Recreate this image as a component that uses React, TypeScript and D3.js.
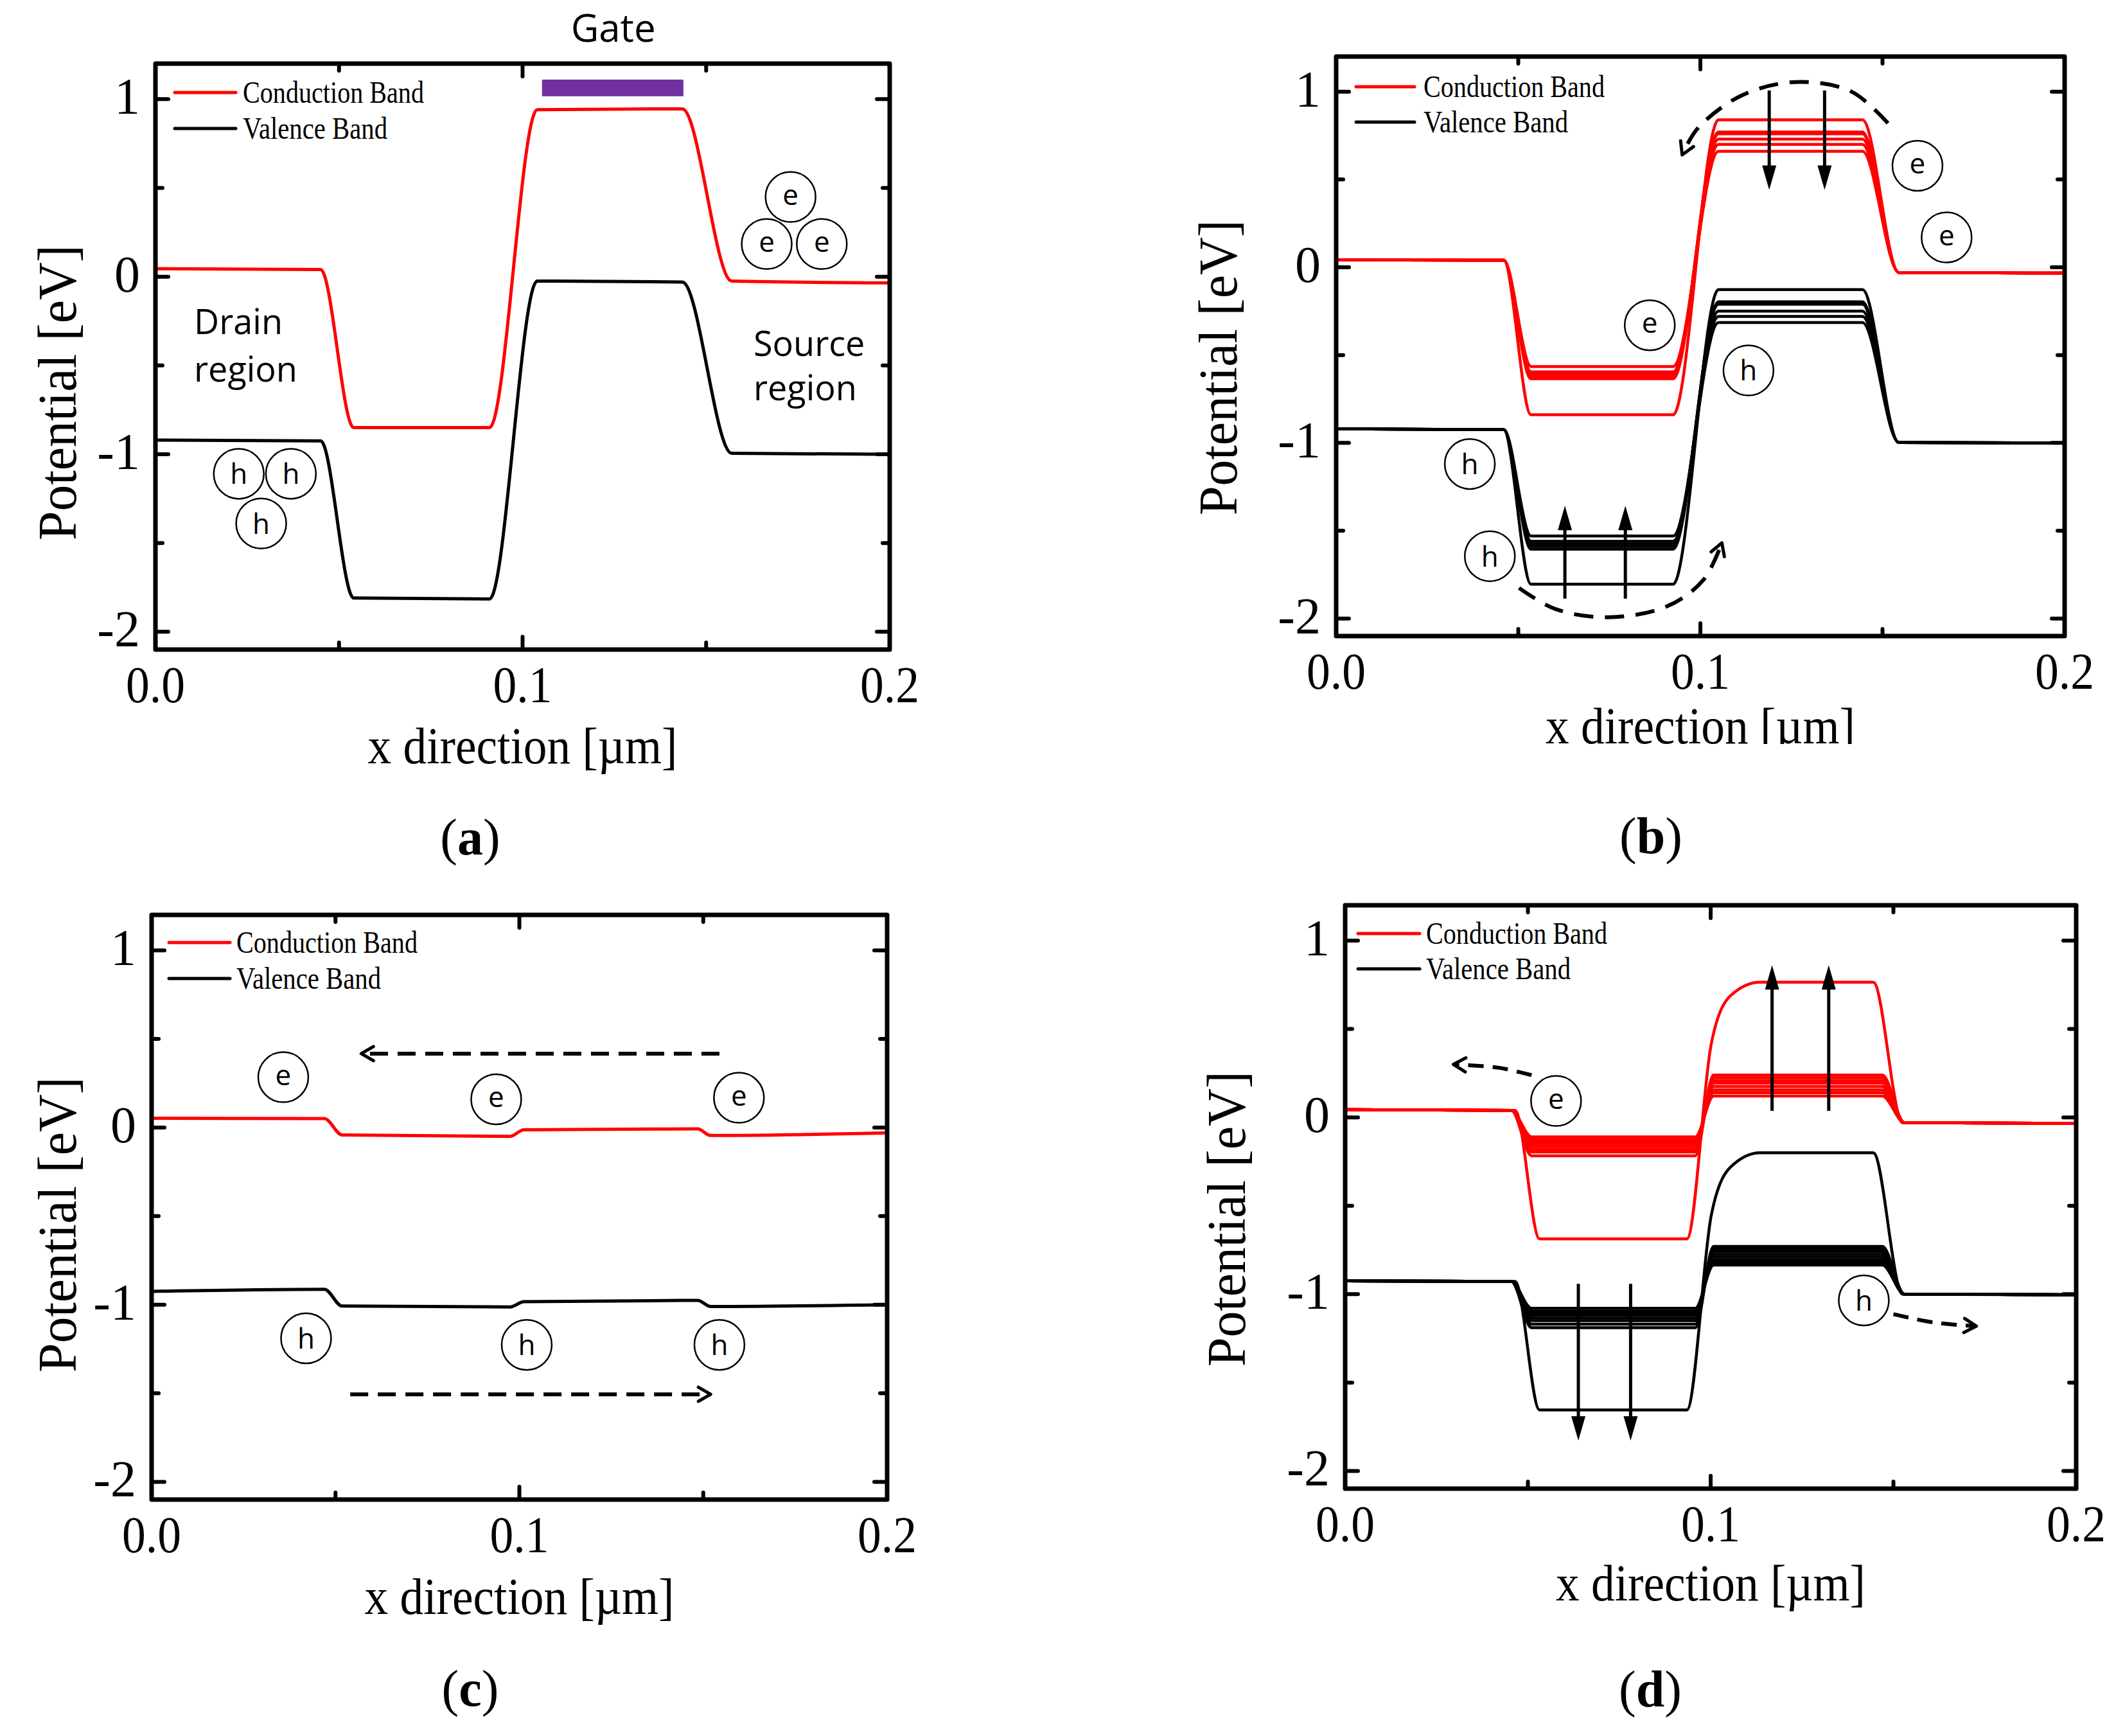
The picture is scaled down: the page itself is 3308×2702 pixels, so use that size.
import * as d3 from "d3";
import type { ReactNode } from "react";

type Pt = [number, number];

const WIDTH = 3308;
const HEIGHT = 2702;
const X_DOMAIN: Pt = [0, 0.2];
const Y_DOMAIN: Pt = [-2.1, 1.2];

const xMajor = [0, 0.1, 0.2];
const xMajorLabels = ["0.0", "0.1", "0.2"];
const xMinor = [0.05, 0.15];
const yMajor = [1, 0, -1, -2];
const yMajorLabels = ["1", "0", "-1", "-2"];
const yMinor = [0.5, -0.5, -1.5];

const legendLabels = ["Conduction Band", "Valence Band"];
const xTitle = "x direction [µm]";
const yTitle = "Potential [eV]";

// (a) equilibrium bands
const knotsA = [0, 0.045, 0.054, 0.091, 0.104, 0.1435, 0.157, 0.2];
const cbA = [0.045, 0.04, -0.85, -0.85, 0.94, 0.945, -0.025, -0.035];
const vbA = [-0.92, -0.925, -1.81, -1.815, -0.025, -0.03, -0.995, -1.0];
const gateSpan = [0.1053, 0.1438];
const gateLevels = [1.016, 1.11];
const gateLabel: [string, number, number] = ["Gate", 0.1247, 1.323];
const regionLabels: [string, number, number][] = [
  ["Drain", 0.0105, -0.325],
  ["region", 0.0105, -0.59],
  ["Source", 0.1629, -0.445],
  ["region", 0.1629, -0.695],
];
const circlesA: [number, number, string][] = [
  [0.173, 0.449, "e"],
  [0.1665, 0.184, "e"],
  [0.1815, 0.184, "e"],
  [0.0227, -1.11, "h"],
  [0.0369, -1.11, "h"],
  [0.0288, -1.39, "h"],
];

// (b) barrier lowering
const knotsB = [0, 0.046, 0.0535, 0.0925, 0.105, 0.1445, 0.1545, 0.2];
const cbDrainB = [0.042, 0.04];
const cbSourceB = [-0.03, -0.033];
const cbWellB = [-0.84, -0.635, -0.625, -0.61, -0.595, -0.565];
const cbBarrierB = [0.84, 0.77, 0.76, 0.73, 0.7, 0.66];
const vbDrainB = [-0.92, -0.925];
const vbSourceB = [-0.998, -1.0];
const vbWellB = [-1.805, -1.605, -1.59, -1.575, -1.56, -1.53];
const vbBarrierB = [-0.127, -0.197, -0.21, -0.25, -0.28, -0.315];
const circlesB: [number, number, string][] = [
  [0.1596, 0.578, "e"],
  [0.1676, 0.17, "e"],
  [0.0861, -0.33, "e"],
  [0.1132, -0.587, "h"],
  [0.0367, -1.12, "h"],
  [0.0422, -1.645, "h"],
];
const arrowsB: [number, number, number][] = [
  [0.1189, 1.007, 0.441],
  [0.1341, 1.007, 0.441],
  [0.0628, -1.887, -1.358],
  [0.0794, -1.887, -1.358],
];
const dashedB: Pt[][] = [
  [[0.1515, 0.82], [0.1414, 1.001], [0.126, 1.055], [0.111, 0.975], [0.0992, 0.789], [0.095, 0.64]],
  [[0.0502, -1.826], [0.0603, -1.947], [0.0747, -1.993], [0.0907, -1.932], [0.1008, -1.781], [0.1059, -1.569]],
];

// (c) flat bands
const knotsC = [0, 0.047, 0.0518, 0.0975, 0.1012, 0.1485, 0.152, 0.2];
const cbC = [0.052, 0.05, -0.042, -0.05, -0.013, -0.008, -0.045, -0.03];
const vbC = [-0.925, -0.913, -1.008, -1.013, -0.983, -0.976, -1.01, -1.0];
const circlesC: [number, number, string][] = [
  [0.0358, 0.284, "e"],
  [0.0937, 0.159, "e"],
  [0.1597, 0.168, "e"],
  [0.042, -1.19, "h"],
  [0.102, -1.227, "h"],
  [0.1544, -1.227, "h"],
];
const dashedC: Pt[][] = [
  [[0.1544, 0.417], [0.057, 0.417]],
  [[0.054, -1.506], [0.152, -1.506]],
];

// (d) barrier raising
const knotsD = [0, 0.0455, 0.051, 0.0958, 0.1008, 0.147, 0.153, 0.2];
const cbDrainD = [0.044, 0.04];
const cbSourceD = [-0.03, -0.034];
const cbWellD = [-0.217, -0.196, -0.18, -0.165, -0.15, -0.137, -0.125, -0.11];
const cbBarrierD = [0.24, 0.224, 0.208, 0.193, 0.174, 0.155, 0.14, 0.121];
const vbDrainD = [-0.925, -0.928];
const vbSourceD = [-1.0, -1.003];
const vbWellD = [-1.19, -1.17, -1.15, -1.135, -1.12, -1.105, -1.095, -1.08];
const vbBarrierD = [-0.73, -0.745, -0.76, -0.775, -0.79, -0.805, -0.82, -0.835];
const knotsD0 = [0, 0.0465, 0.0532, 0.0935, 0.1002, 0.1055, 0.1135, 0.1445, 0.1525, 0.2];
const cbD0 = [0.044, 0.04, -0.687, -0.687, 0.42, 0.69, 0.765, 0.765, -0.03, -0.034];
const vbD0 = [-0.925, -0.928, -1.655, -1.655, -0.55, -0.28, -0.2, -0.2, -1.0, -1.003];
const circlesD: [number, number, string][] = [
  [0.0577, 0.093, "e"],
  [0.1419, -1.035, "h"],
];
const arrowsD: [number, number, number][] = [
  [0.1168, 0.037, 0.861],
  [0.1323, 0.037, 0.861],
  [0.0638, -0.942, -1.828],
  [0.0781, -0.942, -1.828],
];
const dashedD: Pt[][] = [
  [[0.051, 0.239], [0.0423, 0.28], [0.0296, 0.3]],
  [[0.15, -1.113], [0.161, -1.16], [0.1727, -1.181]],
];

const zip = (xs: number[], ys: number[]): Pt[] => xs.map((x, i) => [x, ys[i]]);
const levels = (drain: number[], well: number, barrier: number, source: number[]) => [
  drain[0], drain[1], well, well, barrier, barrier, source[0], source[1],
];

const SERIF = "'Liberation Serif', 'Times New Roman', serif";
const SANS = "'Open Sans', 'Noto Sans', sans-serif";
const RED = "#ff0000";

type Box = { left: number; right: number; top: number; bottom: number };

interface PanelCfg {
  tag: string;
  box: Box;
  tagPos: Pt;
  yTitlePos: Pt;
  xTitleY: number;
  clipTitle?: boolean;
  legend: { dy: Pt; lx: Pt; tx: number };
  lineWidth: number;
  red: Pt[][];
  black: Pt[][];
  circles: [number, number, string][];
  arrows: [number, number, number][];
  dashed: Pt[][];
  dash: string;
  extra?: (x: d3.ScaleLinear<number, number>, y: d3.ScaleLinear<number, number>) => ReactNode;
}

const panels: PanelCfg[] = [
  {
    tag: "a",
    box: { left: 242, right: 1385, top: 99, bottom: 1011 },
    tagPos: [732, 1330],
    yTitlePos: [118, 611],
    xTitleY: 1188,
    legend: { dy: [45, 101], lx: [30, 125], tx: 136 },
    lineWidth: 5,
    red: [zip(knotsA, cbA)],
    black: [zip(knotsA, vbA)],
    circles: circlesA,
    arrows: [],
    dashed: [],
    dash: "28 15",
    extra: (x, y) => (
      <g>
        <rect
          x={x(gateSpan[0])}
          y={y(gateLevels[1])}
          width={x(gateSpan[1]) - x(gateSpan[0])}
          height={y(gateLevels[0]) - y(gateLevels[1])}
          fill="#7030a0"
        />
        <text x={x(gateLabel[1])} y={y(gateLabel[2])} textAnchor="middle" fontFamily={SANS} fontSize={60}>
          {gateLabel[0]}
        </text>
        {regionLabels.map(([t, lx, ly], i) => (
          <text key={i} x={x(lx)} y={y(ly)} fontFamily={SANS} fontSize={54}>
            {t}
          </text>
        ))}
      </g>
    ),
  },
  {
    tag: "b",
    box: { left: 2080, right: 3214, top: 88, bottom: 990 },
    tagPos: [2570, 1328],
    yTitlePos: [1925, 572],
    xTitleY: 1157,
    clipTitle: true,
    legend: { dy: [47, 102], lx: [31, 122], tx: 136 },
    lineWidth: 4.5,
    red: cbWellB.map((w, i) => zip(knotsB, levels(cbDrainB, w, cbBarrierB[i], cbSourceB))),
    black: vbWellB.map((w, i) => zip(knotsB, levels(vbDrainB, w, vbBarrierB[i], vbSourceB))),
    circles: circlesB,
    arrows: arrowsB,
    dashed: dashedB,
    dash: "30 18",
  },
  {
    tag: "c",
    box: { left: 236, right: 1381, top: 1424, bottom: 2334 },
    tagPos: [732, 2655],
    yTitlePos: [118, 1906],
    xTitleY: 2512,
    legend: { dy: [43, 99], lx: [27, 122], tx: 132 },
    lineWidth: 5,
    red: [zip(knotsC, cbC)],
    black: [zip(knotsC, vbC)],
    circles: circlesC,
    arrows: [],
    dashed: dashedC,
    dash: "28 15",
  },
  {
    tag: "d",
    box: { left: 2094, right: 3232, top: 1409, bottom: 2317 },
    tagPos: [2569, 2656],
    yTitlePos: [1938, 1897],
    xTitleY: 2491,
    legend: { dy: [44, 99], lx: [20, 116], tx: 126 },
    lineWidth: 4.5,
    red: [
      ...cbWellD.map((w, i) => zip(knotsD, levels(cbDrainD, w, cbBarrierD[i], cbSourceD))),
      zip(knotsD0, cbD0),
    ],
    black: [
      ...vbWellD.map((w, i) => zip(knotsD, levels(vbDrainD, w, vbBarrierD[i], vbSourceD))),
      zip(knotsD0, vbD0),
    ],
    circles: circlesD,
    arrows: arrowsD,
    dashed: dashedD,
    dash: "24 14",
  },
];

function Panel({ cfg }: { cfg: PanelCfg }) {
  const { box } = cfg;
  const x = d3.scaleLinear().domain(X_DOMAIN).range([box.left, box.right]);
  const y = d3.scaleLinear().domain(Y_DOMAIN).range([box.bottom, box.top]);
  const bandLine = d3
    .line<Pt>()
    .x((d) => x(d[0]))
    .y((d) => y(d[1]))
    .curve(d3.curveMonotoneX);
  const freeLine = d3
    .line<Pt>()
    .x((d) => x(d[0]))
    .y((d) => y(d[1]))
    .curve(d3.curveCatmullRom.alpha(0.5));
  const cx = (box.left + box.right) / 2;
  const clipId = `title-clip-${cfg.tag}`;
  const majorLen = 20;
  const minorLen = 11;

  return (
    <g>
      {cfg.red.map((pts, i) => (
        <path key={`r${i}`} d={bandLine(pts) ?? ""} fill="none" stroke={RED} strokeWidth={cfg.lineWidth} strokeLinejoin="round" />
      ))}
      {cfg.black.map((pts, i) => (
        <path key={`k${i}`} d={bandLine(pts) ?? ""} fill="none" stroke="#000" strokeWidth={cfg.lineWidth} strokeLinejoin="round" />
      ))}

      {cfg.circles.map(([px, py, t], i) => (
        <g key={`c${i}`}>
          <circle cx={x(px)} cy={y(py)} r={39} fill="none" stroke="#000" strokeWidth={2.5} />
          <text x={x(px)} y={y(py) + (t === "h" ? 16 : 12)} textAnchor="middle" fontFamily={SANS} fontSize={44}>
            {t}
          </text>
        </g>
      ))}

      {cfg.arrows.map(([ax, from, to], i) => {
        const px = x(ax);
        const y0 = y(from);
        const y1 = y(to);
        const dir = y1 > y0 ? 1 : -1;
        return (
          <g key={`a${i}`}>
            <line x1={px} x2={px} y1={y0} y2={y1 - dir * 20} stroke="#000" strokeWidth={5} />
            <path d={`M${px - 11},${y1 - dir * 38} L${px + 11},${y1 - dir * 38} L${px},${y1} Z`} fill="#000" />
          </g>
        );
      })}

      {cfg.dashed.map((pts, i) => (
        <path
          key={`d${i}`}
          d={freeLine(pts) ?? ""}
          fill="none"
          stroke="#000"
          strokeWidth={6}
          strokeDasharray={cfg.dash}
          markerEnd="url(#chevron)"
        />
      ))}

      {cfg.extra ? cfg.extra(x, y) : null}

      <rect
        x={box.left}
        y={box.top}
        width={box.right - box.left}
        height={box.bottom - box.top}
        fill="none"
        stroke="#000"
        strokeWidth={7}
        strokeLinejoin="round"
      />

      <g stroke="#000" strokeWidth={6} strokeLinecap="round">
        {xMajor.map((v) => (
          <g key={`xm${v}`}>
            <line x1={x(v)} x2={x(v)} y1={box.bottom} y2={box.bottom - majorLen} />
            <line x1={x(v)} x2={x(v)} y1={box.top} y2={box.top + majorLen} />
          </g>
        ))}
        {xMinor.map((v) => (
          <g key={`xn${v}`}>
            <line x1={x(v)} x2={x(v)} y1={box.bottom} y2={box.bottom - minorLen} />
            <line x1={x(v)} x2={x(v)} y1={box.top} y2={box.top + minorLen} />
          </g>
        ))}
        {yMajor.map((v) => (
          <g key={`ym${v}`}>
            <line x1={box.left} x2={box.left + majorLen} y1={y(v)} y2={y(v)} />
            <line x1={box.right} x2={box.right - majorLen} y1={y(v)} y2={y(v)} />
          </g>
        ))}
        {yMinor.map((v) => (
          <g key={`yn${v}`}>
            <line x1={box.left} x2={box.left + minorLen} y1={y(v)} y2={y(v)} />
            <line x1={box.right} x2={box.right - minorLen} y1={y(v)} y2={y(v)} />
          </g>
        ))}
      </g>

      <g fontFamily={SERIF} fontSize={80} fill="#000">
        {xMajor.map((v, i) => (
          <text key={`xl${v}`} x={x(v)} y={box.bottom + 82} textAnchor="middle" textLength={92} lengthAdjust="spacingAndGlyphs">
            {xMajorLabels[i]}
          </text>
        ))}
        {yMajor.map((v, i) => (
          <text key={`yl${v}`} x={box.left - 24} y={y(v) + 23} textAnchor="end">
            {yMajorLabels[i]}
          </text>
        ))}
      </g>

      {cfg.clipTitle ? (
        <clipPath id={clipId}>
          <rect x={0} y={0} width={WIDTH} height={cfg.xTitleY + 1} />
        </clipPath>
      ) : null}
      <text
        x={cx}
        y={cfg.xTitleY}
        textAnchor="middle"
        fontFamily={SERIF}
        fontSize={80}
        textLength={482}
        lengthAdjust="spacingAndGlyphs"
        clipPath={cfg.clipTitle ? `url(#${clipId})` : undefined}
      >
        {xTitle}
      </text>
      <text
        transform={`translate(${cfg.yTitlePos[0]},${cfg.yTitlePos[1]}) rotate(-90)`}
        textAnchor="middle"
        fontFamily={SERIF}
        fontSize={84}
        textLength={460}
        lengthAdjust="spacingAndGlyphs"
      >
        {yTitle}
      </text>

      {[RED, "#000"].map((color, i) => (
        <g key={`lg${i}`}>
          <line
            x1={box.left + cfg.legend.lx[0]}
            x2={box.left + cfg.legend.lx[1]}
            y1={box.top + cfg.legend.dy[i]}
            y2={box.top + cfg.legend.dy[i]}
            stroke={color}
            strokeWidth={5}
            strokeLinecap="round"
          />
          <text
            x={box.left + cfg.legend.tx}
            y={box.top + cfg.legend.dy[i] + 16}
            fontFamily={SERIF}
            fontSize={48}
            textLength={i === 0 ? 282 : 225}
            lengthAdjust="spacingAndGlyphs"
          >
            {legendLabels[i]}
          </text>
        </g>
      ))}

      <text x={cfg.tagPos[0]} y={cfg.tagPos[1]} textAnchor="middle" fontFamily={SERIF} fontSize={80}>
        (<tspan fontWeight="bold">{cfg.tag}</tspan>)
      </text>
    </g>
  );
}

export default function App() {
  return (
    <svg
      width={WIDTH}
      height={HEIGHT}
      viewBox={`0 0 ${WIDTH} ${HEIGHT}`}
      style={{ position: "absolute", left: 0, top: 0, background: "#fff" }}
    >
      <defs>
        <marker
          id="chevron"
          viewBox="-24 -14 30 28"
          refX={0}
          refY={0}
          markerWidth={30}
          markerHeight={28}
          markerUnits="userSpaceOnUse"
          orient="auto"
          overflow="visible"
        >
          <path d="M-19,-11 L0,0 L-19,11" fill="none" stroke="#000" strokeWidth={5} strokeLinecap="round" strokeLinejoin="round" />
        </marker>
      </defs>
      <rect width={WIDTH} height={HEIGHT} fill="#fff" />
      {panels.map((p) => (
        <Panel key={p.tag} cfg={p} />
      ))}
    </svg>
  );
}
